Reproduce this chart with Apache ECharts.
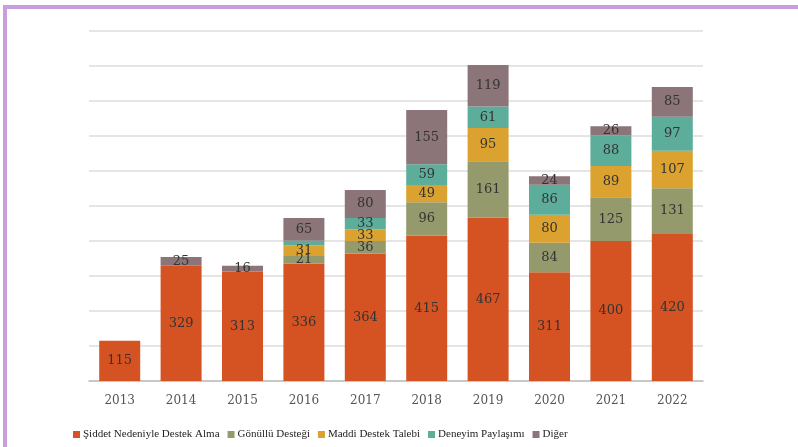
<!DOCTYPE html>
<html>
<head>
<meta charset="utf-8">
<script src="https://cdn.jsdelivr.net/npm/echarts@6/dist/echarts.min.js"></script>
<style>
html,body{margin:0;padding:0;background:#fff}
#chart{width:798px;height:447px}
</style>
</head>
<body>
<div id="chart"></div>
<script>
let years=['2013','2014','2015','2016','2017','2018','2019','2020','2021','2022']
let names=['Şiddet Nedeniyle Destek Alma','Gönüllü Desteği','Maddi Destek Talebi','Deneyim Paylaşımı','Diğer']
let siddet=[115,329,313,336,364,415,467,311,400,420]
let gonullu=[0,0,0,21,36,96,161,84,125,131]
let maddi=[0,0,0,31,33,49,95,80,89,107]
let deneyim=[0,0,0,13,33,59,61,86,88,97]
let diger=[0,25,16,65,80,155,119,24,26,85]
let colors=['#D55322','#959A6C','#DCA22F','#5CAE9B','#8B7579']

let values=[siddet,gonullu,maddi,deneyim,diger]

var myChart=echarts.init(document.getElementById('chart'))
var series=[]
for(let i=0;i<names.length;i++){
    series.push({
        name:names[i],
        type:'bar',
        stack:'toplam',
        barWidth:41,
        data:values[i],
        itemStyle:{color:colors[i]},
        label:{
            show:true,
            position:'inside',
            color:'#333',
            fontFamily:'DejaVu Serif',
            fontSize:13,
            // çok ince dilimlerde etiket yok
            formatter:function(p){return p.value<15?'':p.value}
        }
    })
}

var option={
    animation:false,
    color:colors,
    grid:{left:89,right:95,top:31,bottom:66},
    xAxis:{
        type:'category',
        data:years,
        axisLine:{lineStyle:{color:'#bfbfbf',width:1.5}},
        axisTick:{show:false},
        axisLabel:{color:'#555',fontFamily:'DejaVu Serif',fontSize:12,margin:14}
    },
    yAxis:{
        type:'value',
        min:0,
        max:1000,
        interval:100,
        axisLabel:{show:false},
        axisLine:{show:false},
        axisTick:{show:false},
        splitLine:{lineStyle:{color:'#dcdcdc',width:1.5}}
    },
    legend:{
        left:68,
        top:424,
        itemWidth:7,
        itemHeight:7,
        itemGap:8,
        icon:'rect',
        textStyle:{color:'#222',fontFamily:'Liberation Serif',fontSize:11,padding:[0,0,0,-2]}
    },
    graphic:[
        {type:'rect',shape:{x:3,y:5,width:795,height:4},style:{fill:'#C89EDF'}},
        {type:'rect',shape:{x:3,y:5,width:4,height:442},style:{fill:'#C89EDF'}}
    ],
    series:series
}
myChart.setOption(option)
</script>
</body>
</html>
